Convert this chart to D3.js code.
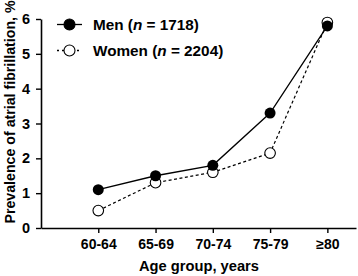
<!DOCTYPE html>
<html>
<head>
<script src="https://d3js.org/d3.v7.min.js"></script>
<style>
  body { margin: 0; background: white; }
  text { font-family: "Liberation Sans", Arial, sans-serif; font-weight: bold; fill: black; }
</style>
</head>
<body>
<script>
const ageGroups = ["60-64", "65-69", "70-74", "75-79", "≥80"]
const menValues = [1.1, 1.5, 1.8, 3.3, 5.8]
const womenValues = [0.5, 1.3, 1.6, 2.15, 5.9]
const yTicks = [0, 1, 2, 3, 4, 5, 6]

const width = 358, height = 276

const svg = d3.select("body").append("svg").attr("width", width).attr("height", height)

// x positions by category index; axis starts one step left of the first group
const x = d3.scaleLinear().domain([-1, 4.5]).range([41, 356])
const y = d3.scaleLinear().domain([0, 6]).range([228, 19])

// y axis
const yAxis = svg.append("g").attr("transform", "translate(41,0)")
    .call(d3.axisLeft(y).tickValues(yTicks).tickFormat(d3.format("d")).tickSize(5).tickPadding(6).tickSizeOuter(0))
yAxis.select(".domain").attr("stroke-width", 1.6)
yAxis.selectAll(".tick line").attr("stroke-width", 1.4)
yAxis.selectAll("text").style("font-size", "14.5px").style("font-family", "Liberation Sans, Arial").style("font-weight", "bold")

// x axis
const xAxis = svg.append("g").attr("transform", "translate(0,228)")
    .call(d3.axisBottom(x).tickValues(d3.range(ageGroups.length)).tickFormat(i => ageGroups[i])
        .tickSize(5).tickPadding(6).tickSizeOuter(0))
xAxis.select(".domain").attr("stroke-width", 1.6)
xAxis.selectAll(".tick line").attr("stroke-width", 1.4)
xAxis.selectAll("text").style("font-size", "14px").style("font-family", "Liberation Sans, Arial").style("font-weight", "bold")

// axis titles
svg.append("text").attr("x", 199).attr("y", 271).attr("text-anchor", "middle")
    .style("font-size", "14.7px").text("Age group, years")
svg.append("text").attr("transform", "translate(15,112) rotate(-90)").attr("text-anchor", "middle")
    .style("font-size", "14.2px").text("Prevalence of atrial fibrillation, %")

const line = d3.line().x((d, i) => x(i)).y(d => y(d))

// women (dashed, open)
svg.append("path").datum(womenValues).attr("d", line)
    .attr("fill", "none").attr("stroke", "black").attr("stroke-width", 1.2).attr("stroke-dasharray", "3,2.5")
svg.selectAll(".women").data(womenValues).enter().append("circle")
    .attr("cx", (d, i) => x(i)).attr("cy", d => y(d)).attr("r", 5.3)
    .attr("fill", "white").attr("stroke", "black").attr("stroke-width", 1.1)

// men (solid, filled)
svg.append("path").datum(menValues).attr("d", line)
    .attr("fill", "none").attr("stroke", "black").attr("stroke-width", 1.3)
svg.selectAll(".men").data(menValues).enter().append("circle")
    .attr("cx", (d, i) => x(i)).attr("cy", d => y(d)).attr("r", 5.5)
    .attr("fill", "black")

// legend
const legend = [
  { label: "Men", n: "1718", filled: true, y: 24.5 },
  { label: "Women", n: "2204", filled: false, y: 50.5 }
]
legend.forEach(l => {
  svg.append("line").attr("x1", 57).attr("x2", 82).attr("y1", l.y).attr("y2", l.y)
      .attr("stroke", "black").attr("stroke-width", 1.3)
      .attr("stroke-dasharray", l.filled ? null : "2,3")
  svg.append("circle").attr("cx", 69.5).attr("cy", l.y).attr("r", 5.5)
      .attr("fill", l.filled ? "black" : "white").attr("stroke", "black").attr("stroke-width", 1.1)
  const t = svg.append("text").attr("x", 93).attr("y", l.y + 5.5).style("font-size", "15.3px")
  t.append("tspan").text(l.label + " (")
  t.append("tspan").style("font-style", "italic").text("n")
  t.append("tspan").text(" = " + l.n + ")")
})
</script>
</body>
</html>
